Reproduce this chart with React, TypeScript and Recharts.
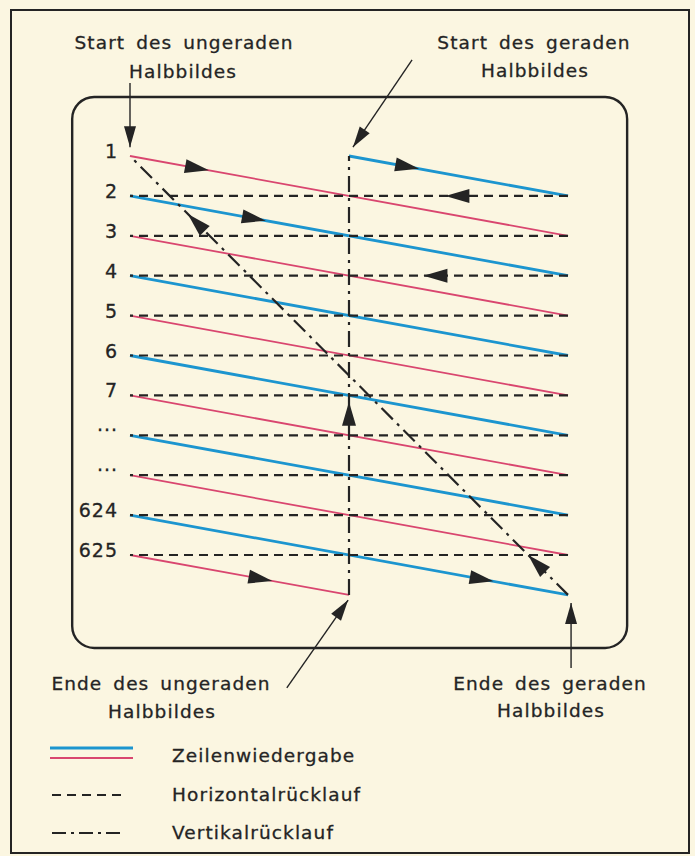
import {
  ComposedChart,
  Line,
  Scatter,
  XAxis,
  YAxis,
  ReferenceArea,
} from "recharts";

const W = 695;
const H = 856;
// scan raster: x = 0 at line start, 1 at line end; y = line number
const X0 = 130;
const KX = 438;
const Y0 = 156;
const KY = 39.9;

const PAPER = "#fbf6e1";
const INK = "#242424";
const BLUE = "#1c95cf";
const RED = "#d9466f";
const FONT = "'DejaVu Sans', sans-serif";

type P = [number, number];
type Seg = [P, P];

const ROW_LABELS = ["1", "2", "3", "4", "5", "6", "7", "\u00b7\u00b7\u00b7", "\u00b7\u00b7\u00b7", "624", "625"];
const ROW_NUMBERS = [1, 2, 3, 4, 5, 6, 7, 8, 9, 10, 11];

// ungerades Halbbild (rot)
const ODD_FIELD: Seg[] = [
  [[0, 1], [1, 3]],
  [[0, 3], [1, 5]],
  [[0, 5], [1, 7]],
  [[0, 7], [1, 9]],
  [[0, 9], [1, 11]],
  [[0, 11], [0.5, 12]],
];

// gerades Halbbild (blau)
const EVEN_FIELD: Seg[] = [
  [[0.5, 1], [1, 2]],
  [[0, 2], [1, 4]],
  [[0, 4], [1, 6]],
  [[0, 6], [1, 8]],
  [[0, 8], [1, 10]],
  [[0, 10], [1, 12]],
];

const H_RETRACE_ROWS = [2, 3, 4, 5, 6, 7, 8, 9, 10, 11];
const H_RETRACE: Seg[] = H_RETRACE_ROWS.map((r) => [[1, r], [0, r]] as Seg);

const V_RETRACE_ODD: Seg = [[0.5, 12], [0.5, 1]];
const V_RETRACE_EVEN: Seg = [[1, 12], [0, 1]];

// arrow heads sitting on the traces (t = tip position along the segment)
const TRACE_ARROWS: { on: Seg; t: number }[] = [
  { on: ODD_FIELD[0], t: 0.18 },
  { on: EVEN_FIELD[0], t: 0.32 },
  { on: H_RETRACE[0], t: 0.28 },
  { on: EVEN_FIELD[1], t: 0.31 },
  { on: H_RETRACE[2], t: 0.33 },
  { on: V_RETRACE_ODD, t: 0.44 },
  { on: ODD_FIELD[5], t: 0.65 },
  { on: EVEN_FIELD[5], t: 0.83 },
  { on: V_RETRACE_EVEN, t: 0.868 },
  { on: V_RETRACE_EVEN, t: 0.091 },
];

// callout arrows pointing at start / end of each field
const CALLOUTS: Seg[] = [
  [[0, -0.83], [0, 0.78]],
  [[0.644, -1.41], [0.509, 0.78]],
  [[0.358, 14.33], [0.498, 12.13]],
  [[1.007, 13.83], [1.007, 12.2]],
];

const SCREEN = { x1: -0.132, x2: 1.135, y1: -0.48, y2: 13.33 };

const XDOMAIN: [number, number] = [-X0 / KX, (W - X0) / KX];
const YDOMAIN: [number, number] = [1 - Y0 / KY, 1 + (H - Y0) / KY];

const pts = (s: Seg) => s.map(([x, y]) => ({ x, y }));
const at = (s: Seg, t: number) => {
  const [[x1, y1], [x2, y2]] = s;
  return { x: x1 + (x2 - x1) * t, y: y1 + (y2 - y1) * t, dx: x2 - x1, dy: y2 - y1 };
};

function head(len: number, half: number) {
  return function Head(props: any) {
    const { cx, cy, payload } = props;
    if (cx == null || cy == null) return null;
    const a = Math.atan2(payload.dy * KY, payload.dx * KX);
    const c = Math.cos(a);
    const s = Math.sin(a);
    const bx = cx - len * c;
    const by = cy - len * s;
    const p = [
      [cx, cy],
      [bx - half * s, by + half * c],
      [bx + half * s, by - half * c],
    ];
    return <polygon points={p.map((q) => q.join(",")).join(" ")} fill={INK} />;
  };
}

function RowLabel(props: any) {
  const { cx, cy, payload } = props;
  return (
    <text x={cx - 12} y={cy + 2} textAnchor="end" fontFamily={FONT} fontSize={19} fill={INK} stroke={INK} strokeWidth={0.3} letterSpacing={1}>
      {payload.label}
    </text>
  );
}

function ScreenShape(props: any) {
  const { x, y, width, height } = props;
  const top = Math.min(y, y + height);
  return (
    <rect x={x} y={top} width={Math.abs(width)} height={Math.abs(height)} rx={22} ry={22} fill="none" stroke={INK} strokeWidth={2.4} />
  );
}

const txt = { fontFamily: FONT, fontSize: 18.5, fill: INK, stroke: INK, strokeWidth: 0.3, letterSpacing: 1.1, wordSpacing: 4 } as const;

export default function App() {
  const traceArrows = TRACE_ARROWS.map((a) => at(a.on, a.t));
  const calloutHeads = CALLOUTS.map((s) => at(s, 1));
  const rowLabels = ROW_NUMBERS.map((r, i) => ({ x: 0, y: r, label: ROW_LABELS[i] }));

  return (
    <div style={{ position: "relative", width: W, height: H, background: PAPER }}>
      <style>{"body{margin:0}"}</style>
      <svg width={W} height={H} style={{ position: "absolute", left: 0, top: 0 }}>
        <rect x={11} y={10} width={678} height={843} fill="none" stroke={INK} strokeWidth={2} />
        <text x={184} y={49} textAnchor="middle" {...txt}>Start des ungeraden</text>
        <text x={183} y={78} textAnchor="middle" {...txt}>Halbbildes</text>
        <text x={534} y={49} textAnchor="middle" {...txt}>Start des geraden</text>
        <text x={535} y={77} textAnchor="middle" {...txt}>Halbbildes</text>
        <text x={161} y={690} textAnchor="middle" {...txt}>Ende des ungeraden</text>
        <text x={162} y={718} textAnchor="middle" {...txt}>Halbbildes</text>
        <text x={550} y={690} textAnchor="middle" {...txt}>Ende des geraden</text>
        <text x={551} y={717} textAnchor="middle" {...txt}>Halbbildes</text>

        <line x1={50} x2={133} y1={748} y2={748} stroke={BLUE} strokeWidth={2.8} />
        <line x1={50} x2={133} y1={758} y2={758} stroke={RED} strokeWidth={1.8} />
        <text x={172} y={762} {...txt}>Zeilenwiedergabe</text>
        <line x1={52} x2={125} y1={795} y2={795} stroke={INK} strokeWidth={2} strokeDasharray="9 6" />
        <text x={172} y={801} {...txt}>Horizontalrücklauf</text>
        <line x1={52} x2={125} y1={833} y2={833} stroke={INK} strokeWidth={2} strokeDasharray="14 5 3 5" />
        <text x={172} y={839} {...txt}>Vertikalrücklauf</text>
      </svg>
      <div style={{ position: "absolute", left: 0, top: 0 }}>
        <ComposedChart width={W} height={H} margin={{ top: 0, right: 0, bottom: 0, left: 0 }}>
          <XAxis type="number" dataKey="x" domain={XDOMAIN} allowDataOverflow hide />
          <YAxis type="number" dataKey="y" domain={YDOMAIN} allowDataOverflow reversed hide />
          <ReferenceArea {...SCREEN} ifOverflow="visible" shape={ScreenShape} />

          {ODD_FIELD.map((s, i) => (
            <Line key={`o${i}`} data={pts(s)} dataKey="y" type="linear" stroke={RED} strokeWidth={1.8} dot={false} activeDot={false} isAnimationActive={false} />
          ))}
          {EVEN_FIELD.map((s, i) => (
            <Line key={`e${i}`} data={pts(s)} dataKey="y" type="linear" stroke={BLUE} strokeWidth={2.8} dot={false} activeDot={false} isAnimationActive={false} />
          ))}
          {H_RETRACE.map((s, i) => (
            <Line key={`h${i}`} data={pts(s)} dataKey="y" type="linear" stroke={INK} strokeWidth={2.2} strokeDasharray="9 6" dot={false} activeDot={false} isAnimationActive={false} />
          ))}
          {[V_RETRACE_ODD, V_RETRACE_EVEN].map((s, i) => (
            <Line key={`v${i}`} data={pts(s)} dataKey="y" type="linear" stroke={INK} strokeWidth={2.2} strokeDasharray="16 6 3 6" dot={false} activeDot={false} isAnimationActive={false} />
          ))}
          {CALLOUTS.map((s, i) => (
            <Line key={`c${i}`} data={pts(s)} dataKey="y" type="linear" stroke={INK} strokeWidth={1.4} dot={false} activeDot={false} isAnimationActive={false} />
          ))}

          <Scatter data={traceArrows} shape={head(24, 7)} isAnimationActive={false} />
          <Scatter data={calloutHeads} shape={head(21, 6)} isAnimationActive={false} />
          <Scatter data={rowLabels} shape={RowLabel} isAnimationActive={false} />
        </ComposedChart>
      </div>
    </div>
  );
}
